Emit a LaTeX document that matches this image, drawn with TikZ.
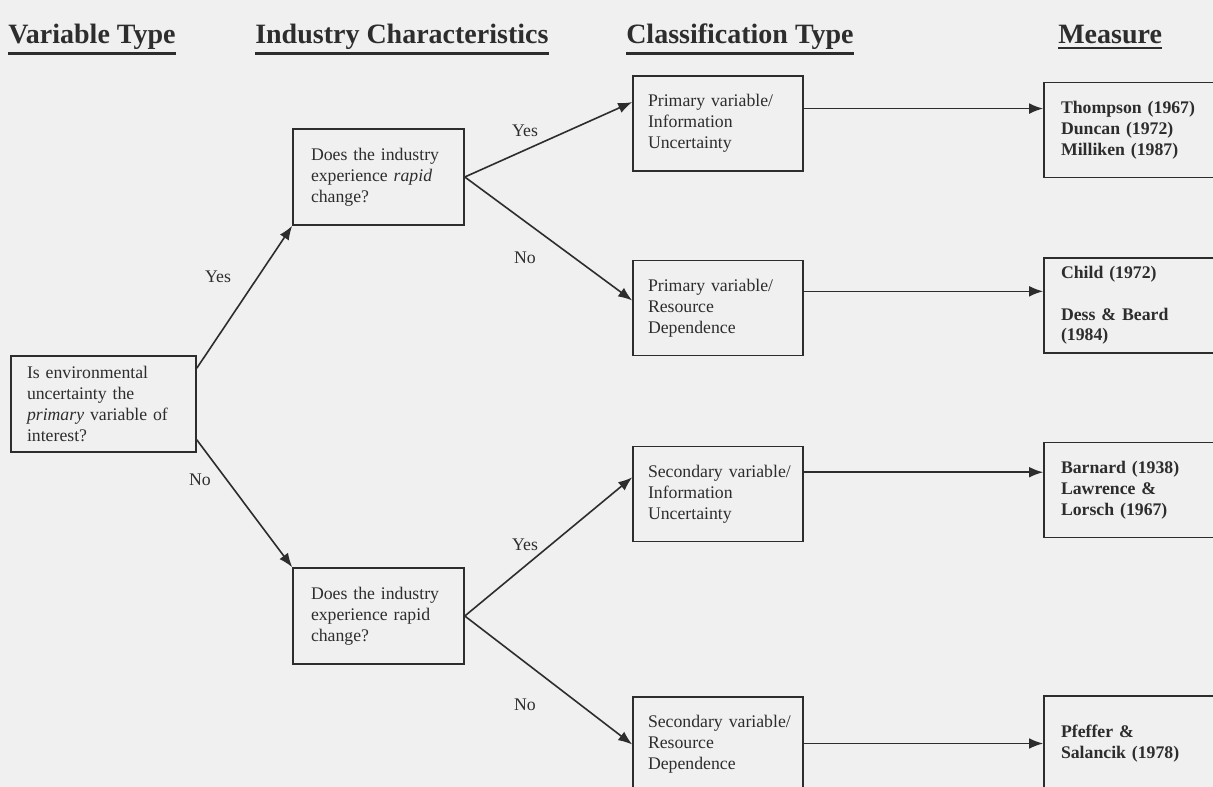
\documentclass[tikz,border=0pt]{standalone}
\usepackage{fontspec}
\setmainfont{Liberation Serif}
\usetikzlibrary{arrows.meta}
\definecolor{paper}{RGB}{240,240,240}
\definecolor{ink}{RGB}{45,45,45}

\begin{document}
\begin{tikzpicture}[x=0.75pt, y=-0.75pt, >={Latex[length=10.5pt, width=8pt]},
    every node/.style={text=ink, font=\fontsize{13.3}{15.6}\selectfont},
    box/.style={draw=ink, line width=1.2pt, align=left, inner ysep=0pt},
    question/.style={box, inner xsep=12pt, text width=114.75pt, minimum height=72pt},
    change/.style={box, inner xsep=13.5pt, text width=101.25pt, minimum height=72pt},
    class/.style={box, inner xsep=11.25pt, text width=105pt, minimum height=71.25pt},
    measure/.style={box, inner xsep=12.75pt, text width=124.5pt, minimum height=71.25pt,
        font=\fontsize{13.3}{15.6}\selectfont\bfseries},
    head/.style={anchor=base west, inner xsep=0pt, inner ysep=2.5pt,
        font=\fontsize{21}{25}\selectfont\bfseries,
        append after command={(\tikzlastnode.south west) edge[draw=ink, line width=2pt] (\tikzlastnode.south east)}},
    link/.style={draw=ink, line width=1.2pt, ->}]

    \clip (0,0) rectangle (1213,787);
    \fill[paper] (0,0) rectangle (1213,787);

    \node[head] (hvar) at (8,44) {Variable Type};
    \node[head] (hind) at (255,44) {Industry Characteristics};
    \node[head] (hcls) at (626,44) {Classification Type};
    \node[head] (hmea) at (1058,44) {Measure};

    \node[question] (root) at (103.5,404) {Is environmental\\uncertainty the\\\emph{primary} variable of\\interest?};

    \node[change] (fast1) at (378.5,177) {Does the industry\\experience \emph{rapid}\\change?};
    \node[change] (fast2) at (378.5,616) {Does the industry\\experience rapid\\change?};

    \node[class] (pinfo) at (718,123.5) {Primary variable/\\Information\\Uncertainty};
    \node[class] (pres) at (718,308) {Primary variable/\\Resource\\Dependence};
    \node[class] (sinfo) at (718,494) {\mbox{Secondary variable/}\\Information\\Uncertainty};
    \node[class] (sres) at (718,744.5) {\mbox{Secondary variable/}\\Resource\\Dependence};

    \node[measure] (mthom) at (1144,130) {Thompson (1967)\\Duncan (1972)\\Milliken (1987)};
    \node[measure] (mchild) at (1144,305.5) {Child (1972)\\[15.6pt]Dess \& Beard\\(1984)};
    \node[measure] (mbarn) at (1144,490) {Barnard (1938)\\Lawrence \&\\Lorsch (1967)};
    \node[measure] (mpfef) at (1144,743.5) {Pfeffer \&\\Salancik (1978)};

    \node (yes1) at (218,277) {Yes};
    \node (no1) at (200,480) {No};
    \node (yes2) at (525,131) {Yes};
    \node (no2) at (525,258) {No};
    \node (yes3) at (525,545) {Yes};
    \node (no3) at (525,705) {No};

    \draw[link] (root.21) -- (fast1.south west);
    \draw[link] (root.-21) -- (fast2.north west);
    \draw[link] (fast1.east) -- (pinfo.166);
    \draw[link] (fast1.east) -- (pres.175);
    \draw[link] (fast2.east) -- (sinfo.169);
    \draw[link] (fast2.east) -- (sres.west);

    \draw[link] (pinfo.east |- mthom.168) -- (mthom.168);
    \draw[link] (pres.east |- mchild.172) -- (mchild.172);
    \draw[link] (sinfo.east |- mbarn.170) -- (mbarn.170);
    \draw[link] (sres.east |- mpfef.west) -- (mpfef.west);
\end{tikzpicture}
\end{document}
